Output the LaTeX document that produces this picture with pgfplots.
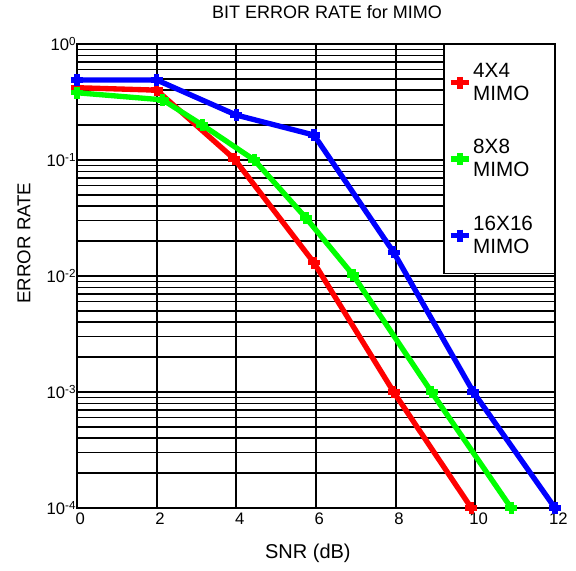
\documentclass[border=0pt]{standalone}
\usepackage{pgfplots}
\pgfplotsset{compat=1.18}
\usepackage{fontspec}
\setmainfont{Liberation Sans}

\begin{document}
\begin{tikzpicture}[x=1pt,y=1pt]
% page frame: 576x571 px at 0.75pt per px, axis box lower-left at origin
\useasboundingbox (-57.75,-47.25) rectangle (374.25,381);
\begin{axis}[
  at={(0,0)}, anchor=south west,
  scale only axis, width=358.5pt, height=348pt,
  ymode=log,
  xmin=0, xmax=12, ymin=1e-4, ymax=1,
  xtick={0,2,4,6,8,10,12},
  ytick={1e-4,1e-3,1e-2,1e-1,1},
  yticklabels={10\textsuperscript{-4},10\textsuperscript{-3},10\textsuperscript{-2},10\textsuperscript{-1},10\textsuperscript{0}},
  minor x tick num=0,
  grid=both,
  xminorgrids=false,
  major grid style={black, line width=1.4pt},
  minor grid style={black, line width=1.0pt},
  axis line style={black, line width=1.5pt},
  tick style={draw=none},
  ticklabel style={font=\fontsize{12.5}{14}\selectfont},
  /pgf/number format/assume math mode=true,
  yticklabel style={xshift=3pt},
  xticklabel style={xshift=2.5pt},
  title={BIT ERROR RATE for MIMO},
  title style={at={(axis description cs:0.523,1.052)}, anchor=center, font=\fontsize{13.5}{16}\selectfont},
  xlabel={SNR (dB)},
  xlabel style={at={(axis description cs:0.483,-0.097)}, anchor=center, font=\fontsize{15}{17}\selectfont},
  ylabel={ERROR RATE},
  ylabel style={at={(axis description cs:-0.111,0.571)}, anchor=center, font=\fontsize{14}{16}\selectfont},
  legend style={at={(1,1)}, anchor=north east, draw=black, line width=1pt, fill=white,
    font=\fontsize{15.5}{17}\selectfont, row sep=24pt, inner ysep=12pt, inner xsep=3pt,
    nodes={align=left, inner xsep=1pt}},
  legend cell align=left,
  legend image code/.code={
    \draw[#1, mark repeat=2, mark phase=2] plot coordinates {(0pt,0pt) (7pt,0pt) (14pt,0pt)};
  },
  every axis plot/.append style={line width=4pt, mark=+, mark size=4.5pt,
    mark options={solid, line width=4pt}},
]
\addplot[color=red] coordinates {
  (0,0.42) (2,0.40) (3.95,0.102) (5.95,0.013) (7.95,1e-3) (9.9,1e-4)};
\addplot[color=green] coordinates {
  (0,0.38) (2.15,0.33) (3.15,0.20) (4.45,0.10) (5.75,0.0316) (6.93,0.0102) (8.9,1e-3) (10.9,1e-4)};
\addplot[color=blue] coordinates {
  (0,0.49) (2,0.49) (4,0.244) (5.95,0.164) (7.95,0.016) (9.95,1e-3) (12,1e-4)};
\legend{{4X4\\MIMO},{8X8\\MIMO},{16X16\hspace*{12pt}\\MIMO}}
\end{axis}
\end{tikzpicture}
\end{document}
